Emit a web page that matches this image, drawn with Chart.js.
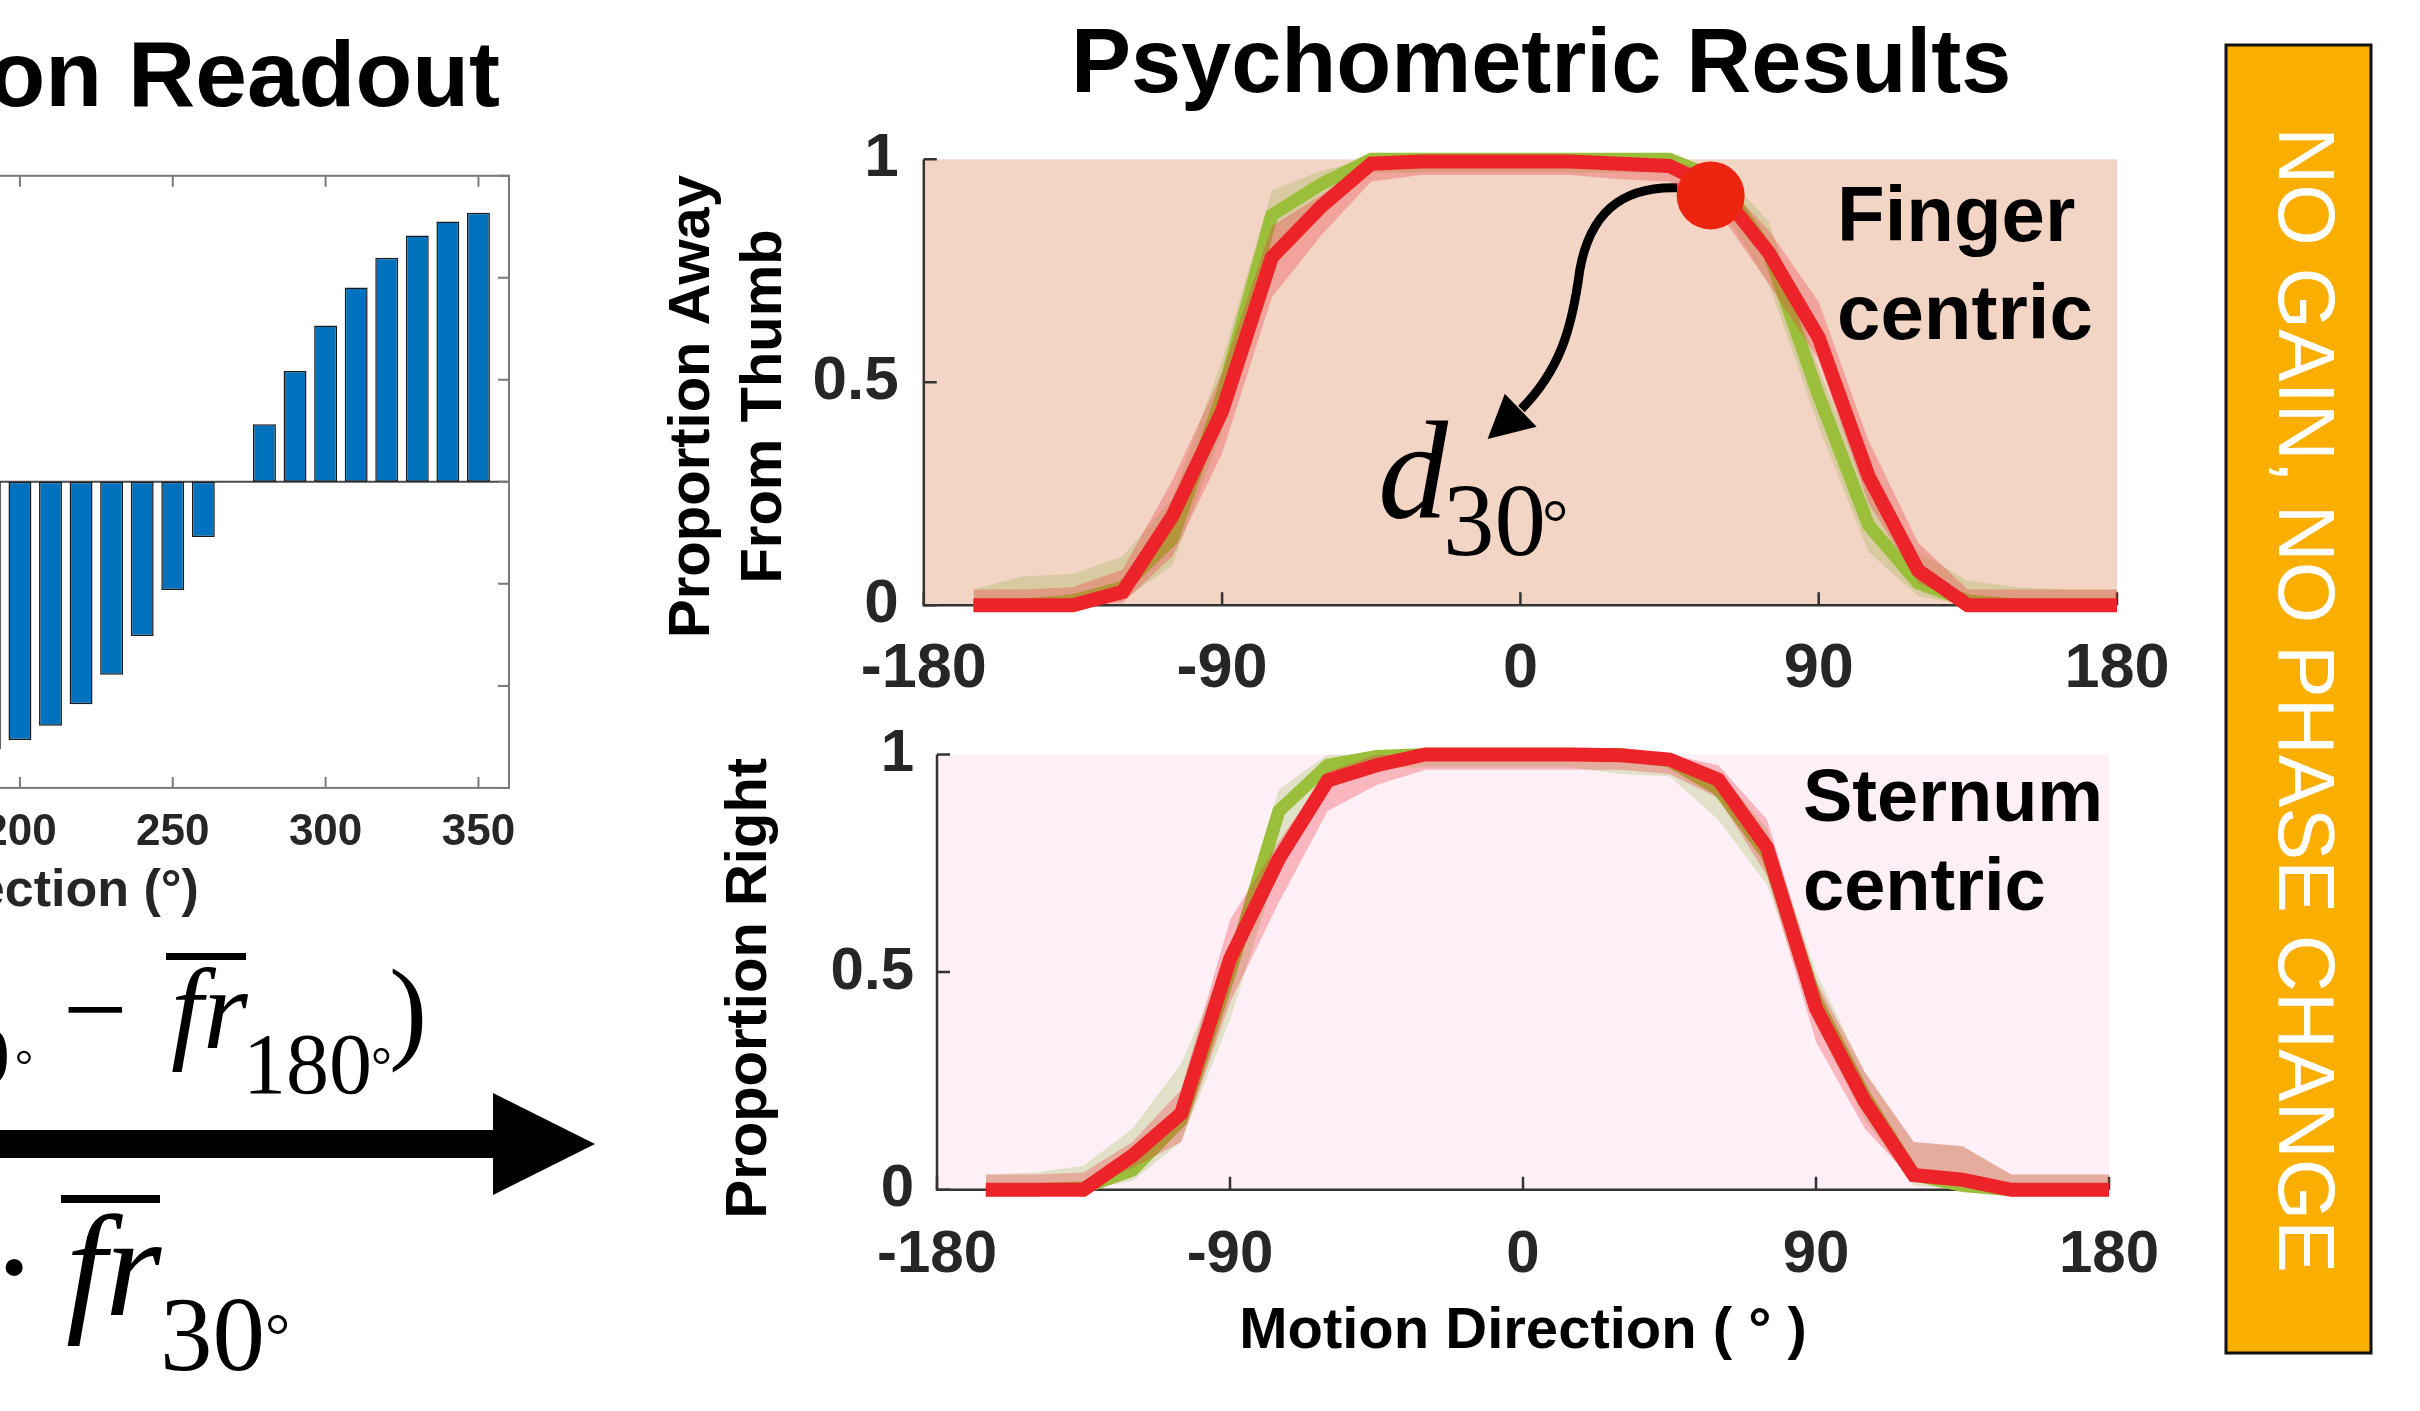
<!DOCTYPE html>
<html><head><meta charset="utf-8">
<script src="https://cdn.jsdelivr.net/npm/chart.js@4.4.1/dist/chart.umd.min.js"></script>
<style>
html,body{margin:0;padding:0;background:#fff;width:2420px;height:1411px;overflow:hidden;position:relative}
canvas{position:absolute}
#ov{position:absolute;left:0;top:0;pointer-events:none}
</style></head><body>
<canvas id="bar" width="1230" height="850" style="left:-700px;top:100px"></canvas>
<canvas id="top" width="1550" height="600" style="left:640px;top:120px"></canvas>
<canvas id="bot" width="1550" height="680" style="left:640px;top:720px"></canvas>
<svg id="ov" width="2420" height="1411" xmlns="http://www.w3.org/2000/svg">
  <g font-family="'Liberation Sans', Arial, Helvetica, sans-serif" font-weight="bold" fill="#000">
    <text x="500" y="106" font-size="93" text-anchor="end">Population Readout</text>
    <text x="1071" y="92" font-size="90">Psychometric Results</text>
    <text x="1837" y="241" font-size="78">Finger</text>
    <text x="1837" y="339" font-size="78">centric</text>
    <text x="1803" y="821" font-size="74">Sternum</text>
    <text x="1803" y="910" font-size="74">centric</text>
  </g>
  <g font-family="'Liberation Serif', 'Times New Roman', Times, serif" fill="#000">
    <text x="1378" y="518" font-size="140" font-style="italic">d</text>
    <text x="1443" y="555" font-size="103">30</text>
    <text x="1542" y="545" font-size="66">°</text>
    <!-- upper equation -->
    <text x="-31" y="1083" font-size="82">0</text>
    <text x="15" y="1080" font-size="45">°</text>
    <text x="63" y="1048" font-size="115">−</text>
    <text x="171" y="1048" font-size="115" font-style="italic">f</text>
    <text x="203" y="1048" font-size="115" font-style="italic">r</text>
    <text x="243" y="1093" font-size="86">180</text>
    <text x="371" y="1083" font-size="52">°</text>
    <text x="389" y="1048" font-size="115">)</text>
    <!-- lower equation -->
    <text x="-10" y="1315" font-size="145">·</text>
    <text x="66" y="1315" font-size="145" font-style="italic">f</text>
    <text x="105" y="1315" font-size="145" font-style="italic">r</text>
    <text x="160" y="1370" font-size="105">30</text>
    <text x="265" y="1357" font-size="63">°</text>
  </g>
  <rect x="166" y="953" width="80" height="7" fill="#000"/>
  <rect x="61" y="1195" width="99" height="8" fill="#000"/>
  <polygon points="-10,1130 493,1130 493,1093 595,1144 493,1195 493,1158 -10,1158" fill="#000"/>
  <rect x="2226" y="45" width="145" height="1308" fill="#F9AE00" stroke="#111" stroke-width="3"/>
  <text transform="translate(2279,700) rotate(90)" text-anchor="middle" font-family="'Liberation Sans', Arial, Helvetica, sans-serif" font-size="79" fill="#fff">NO GAIN, NO PHASE CHANGE</text>
</svg>
<script>
// ---------- data ----------
const barDirs = [190,200,210,220,230,240,250,260,270,280,290,300,310,320,330,340,350];
const barVals = [-2.62,-2.53,-2.39,-2.18,-1.89,-1.51,-1.06,-0.54,0,0.565,1.087,1.532,1.906,2.197,2.416,2.553,2.637];

const dirs = [-165,-150,-135,-120,-105,-90,-75,-60,-45,-30,-15,0,15,30,45,60,75,90,105,120,135,150,165,180];

const fingerRed     = [0,0,0,0.03,0.20,0.435,0.78,0.895,0.99,0.995,0.995,0.995,0.995,0.99,0.985,0.93,0.79,0.60,0.29,0.078,0,0,0,0];
const fingerRedLo   = [0,0,0,0.005,0.11,0.34,0.69,0.83,0.95,0.965,0.965,0.965,0.965,0.955,0.95,0.88,0.72,0.55,0.23,0.05,0,0,0,0];
const fingerRedHi   = [0.035,0.035,0.04,0.08,0.28,0.52,0.85,0.92,1,1,1,1,1,1,1,0.96,0.84,0.68,0.37,0.14,0.035,0.035,0.035,0.035];
const fingerGreen   = [0,0,0.01,0.04,0.15,0.47,0.875,0.945,1,1,1,1,1,1,1,0.955,0.79,0.47,0.18,0.05,0.01,0,0,0];
const fingerGreenLo = [0,0,0,0.01,0.09,0.39,0.8,0.91,0.97,0.97,0.97,0.97,0.97,0.97,0.97,0.9,0.72,0.4,0.12,0.02,0,0,0,0];
const fingerGreenHi = [0.035,0.065,0.07,0.11,0.24,0.55,0.93,0.975,1,1,1,1,1,1,1,0.98,0.86,0.53,0.26,0.12,0.055,0.04,0.035,0.035];

const sternumRed     = [0,0,0,0.078,0.175,0.53,0.76,0.94,0.975,1,1,1,1,0.998,0.988,0.942,0.785,0.417,0.203,0.034,0.023,0,0,0];
const sternumRedLo   = [0,0,0,0.05,0.11,0.43,0.66,0.87,0.93,0.965,0.965,0.965,0.965,0.965,0.955,0.9,0.72,0.34,0.14,0.02,0.01,0,0,0];
const sternumRedHi   = [0.035,0.035,0.04,0.11,0.23,0.62,0.8,0.96,1,1,1,1,1,1,1,0.975,0.85,0.48,0.27,0.11,0.1,0.035,0.035,0.035];
const sternumGreen   = [0,0,0.005,0.045,0.16,0.5,0.87,0.975,0.995,1,1,1,1,1,0.985,0.92,0.77,0.435,0.215,0.035,0.01,0,0,0];
const sternumGreenLo = [0,0,0,0.02,0.11,0.39,0.75,0.94,0.97,0.97,0.97,0.97,0.97,0.955,0.95,0.85,0.7,0.38,0.16,0.01,0,0,0,0];
const sternumGreenHi = [0.035,0.04,0.055,0.14,0.29,0.55,0.92,1,1,1,1,1,1,1,0.995,0.96,0.83,0.5,0.27,0.11,0.1,0.035,0.035,0.035];

const refDir = [57.4];
const refVal = [0.919];

const xTicks = [-180,-90,0,90,180];
const yTicks = [0,0.5,1];

// ---------- styles ----------
const FONT = "'Liberation Sans', Arial, Helvetica, sans-serif";
const TICK = '#262626';
const RED = '#EC2328', GREEN = '#9BBF3B';
const RED_BAND = 'rgba(237,50,60,0.30)', GREEN_BAND = 'rgba(110,160,20,0.20)';
const pts = (xs, ys) => xs.map((v,i)=>({x:v, y:ys[i]}));

const psychoAxes = {
  id:'psychoAxes',
  beforeDraw(chart, args, o){
    const {ctx, chartArea:a} = chart;
    ctx.save(); ctx.fillStyle = o.bg;
    ctx.fillRect(a.left, a.top, a.right-a.left, a.bottom-a.top); ctx.restore();
  },
  beforeDatasetsDraw(chart, args, o){
    const {ctx, chartArea:a, scales:{x,y}} = chart;
    ctx.save();
    ctx.strokeStyle = '#333'; ctx.lineWidth = 2.5;
    ctx.beginPath(); ctx.moveTo(a.left, a.top); ctx.lineTo(a.left, a.bottom); ctx.lineTo(a.right, a.bottom); ctx.stroke();
    ctx.beginPath();
    x.ticks.forEach(t=>{const p=x.getPixelForValue(t.value); ctx.moveTo(p,a.bottom); ctx.lineTo(p,a.bottom-13);});
    y.ticks.forEach(t=>{const p=y.getPixelForValue(t.value); ctx.moveTo(a.left,p); ctx.lineTo(a.left+13,p);});
    ctx.stroke(); ctx.restore();
  }
};

const curvedArrow = {
  id:'curvedArrow',
  beforeDatasetsDraw(chart, args, o){
    if(!o || !o.curve) return;
    const {ctx, scales:{x,y}} = chart;
    const P = ([a,b]) => [x.getPixelForValue(a), y.getPixelForValue(b)];
    const c = o.curve.map(P), h = o.head.map(P);
    ctx.save();
    ctx.strokeStyle = '#000'; ctx.lineWidth = 9; ctx.lineCap = 'butt';
    ctx.beginPath(); ctx.moveTo(...c[0]);
    ctx.bezierCurveTo(...c[1], ...c[2], ...c[3]);
    ctx.bezierCurveTo(...c[4], ...c[5], ...c[6]);
    ctx.stroke();
    ctx.fillStyle = '#000'; ctx.beginPath();
    ctx.moveTo(...h[0]); ctx.lineTo(...h[1]); ctx.lineTo(...h[2]); ctx.closePath(); ctx.fill();
    ctx.restore();
  }
};

const boxAxes = {
  id:'boxAxes',
  beforeDatasetsDraw(chart){
    const {ctx, chartArea:a, scales:{x,y}} = chart;
    ctx.save();
    const y0 = y.getPixelForValue(0);
    ctx.strokeStyle = '#4a4a4a'; ctx.lineWidth = 2;
    ctx.beginPath(); ctx.moveTo(a.left,y0); ctx.lineTo(a.right,y0); ctx.stroke();
    ctx.strokeStyle = '#7a7a7a'; ctx.lineWidth = 2;
    ctx.strokeRect(a.left, a.top, a.right-a.left, a.bottom-a.top);
    ctx.beginPath();
    x.ticks.forEach(t=>{const p=x.getPixelForValue(t.value); ctx.moveTo(p,a.bottom); ctx.lineTo(p,a.bottom-11); ctx.moveTo(p,a.top); ctx.lineTo(p,a.top+11);});
    y.ticks.forEach(t=>{const p=y.getPixelForValue(t.value); ctx.moveTo(a.left,p); ctx.lineTo(a.left+11,p); ctx.moveTo(a.right,p); ctx.lineTo(a.right-11,p);});
    ctx.stroke(); ctx.restore();
  }
};

function lineSet(label, ys, color, w){ return {label, data:pts(dirs,ys), borderColor:color, borderWidth:w, pointRadius:0, fill:false, tension:0, borderJoinStyle:'miter', borderCapStyle:'butt', clip:false}; }
function bandSet(label, ys, color, fill){ return {label, data:pts(dirs,ys), borderWidth:0, borderColor:'rgba(0,0,0,0)', backgroundColor:color, pointRadius:0, fill:fill, tension:0, clip:false}; }

function psychoChart(id, cfg){
  const ds = [];
  if (cfg.ref) ds.push({label:'reference direction', data:pts(refDir, refVal), showLine:false, pointRadius:34, pointHoverRadius:34, pointBackgroundColor:'#EC2410', pointBorderWidth:0, borderWidth:0, clip:false});
  ds.push(lineSet(cfg.name+' (red)', cfg.red, RED, 14));
  ds.push(bandSet('red upper', cfg.redHi, RED_BAND, '+1'));
  ds.push(bandSet('red lower', cfg.redLo, RED_BAND, false));
  ds.push(lineSet(cfg.name+' (green)', cfg.green, GREEN, 13));
  ds.push(bandSet('green upper', cfg.greenHi, GREEN_BAND, '+1'));
  ds.push(bandSet('green lower', cfg.greenLo, GREEN_BAND, false));
  const yTitle = {display:true, text:cfg.yTitle, color:'#000', font:{family:FONT, size:58, weight:'bold', lineHeight:1.24}, padding:{top:cfg.yTitlePad, bottom:0}};
  const xTitle = cfg.xTitle ? {display:true, text:cfg.xTitle, color:'#000', font:{family:FONT, size:58, weight:'bold', lineHeight:1.24}, padding:{top:0, bottom:32.5}} : {display:false};
  return new Chart(document.getElementById(id), {
    type:'line',
    data:{datasets:ds},
    options:{
      responsive:false, animation:false, events:[],
      layout:{padding:cfg.pad},
      plugins:{legend:{display:false}, tooltip:{enabled:false}, psychoAxes:{bg:cfg.bg}, curvedArrow:cfg.arrow || {}},
      scales:{
        x:{type:'linear', min:-180, max:180, grid:{display:false, drawTicks:false}, border:{display:false},
           afterBuildTicks:s=>{ s.ticks = xTicks.map(v=>({value:v})); },
           ticks:{padding:cfg.xPad, color:TICK, maxRotation:0, autoSkip:false, callback:v=>String(v), font:{family:FONT, size:cfg.xFont, weight:'bold'}},
           title:xTitle,
           afterFit:s=>{ s.height = cfg.xH; s.paddingLeft = 0; s.paddingRight = 0; }},
        y:{type:'linear', min:0, max:1, grid:{display:false, drawTicks:false}, border:{display:false},
           afterBuildTicks:s=>{ s.ticks = yTicks.map(v=>({value:v})); },
           ticks:{padding:cfg.yPad, color:TICK, autoSkip:false, callback:v=>String(v), font:{family:FONT, size:cfg.yFont, weight:'bold'}},
           title:yTitle,
           afterFit:s=>{ s.width = cfg.yW; s.paddingTop = 0; s.paddingBottom = 0; }}
      }
    },
    plugins:[psychoAxes, curvedArrow]
  });
}

psychoChart('top', {
  name:'Finger centric', red:fingerRed, redLo:fingerRedLo, redHi:fingerRedHi,
  green:fingerGreen, greenLo:fingerGreenLo, greenHi:fingerGreenHi, ref:true,
  yTitle:['Proportion Away   ','From Thumb   '], yTitlePad:17, bg:'#F3D5C5',
  pad:{top:39.3, right:73, left:0, bottom:0}, yW:283.8, xH:114.8, xPad:27, yPad:25, xFont:63, yFont:62,
  arrow:{ curve:[[47.4,0.936],[29.9,0.94],[20.9,0.875],[17.9,0.751],[15.5,0.617],[11.8,0.527],[0.3,0.44]],
          head:[[-9.9,0.373],[-4.7,0.474],[4.9,0.400]] }
});

psychoChart('bot', {
  name:'Sternum centric', red:sternumRed, redLo:sternumRedLo, redHi:sternumRedHi,
  green:sternumGreen, greenLo:sternumGreenLo, greenHi:sternumGreenHi, ref:false,
  yTitle:'Proportion Right  ', yTitlePad:74, xTitle:'Motion Direction ( ° )', bg:'#FEF0F6',
  pad:{top:34.4, right:81, left:0, bottom:0}, yW:297, xH:210.2, xPad:30, yPad:23, xFont:60, yFont:60
});

new Chart(document.getElementById('bar'), {
  type:'bar',
  data:{datasets:[{label:'readout', data:pts(barDirs, barVals), backgroundColor:'#0072BD', borderColor:'#1a1a1a', borderWidth:1.5, borderSkipped:false, barPercentage:0.75, categoryPercentage:1}]},
  options:{
    responsive:false, animation:false, events:[],
    layout:{padding:{top:75.8, right:21, left:0, bottom:0}},
    plugins:{legend:{display:false}, tooltip:{enabled:false}},
    scales:{
      x:{type:'linear', min:0, max:360, offset:false, grid:{display:false, drawTicks:false, offset:false}, border:{display:false},
         ticks:{stepSize:50, includeBounds:false, padding:19, color:TICK, maxRotation:0, autoSkip:false, callback:v=>String(v), font:{family:FONT, size:44, weight:'bold'}},
         title:{display:true, text:'Motion Direction (°)', color:TICK, font:{family:FONT, size:52, weight:'bold', lineHeight:1.2}, padding:{top:0, bottom:27}},
         afterFit:s=>{ s.height = 162.1; s.paddingLeft = 0; s.paddingRight = 0; }},
      y:{type:'linear', min:-3, max:3, grid:{display:false, drawTicks:false}, border:{display:false},
         ticks:{stepSize:1, padding:10, color:TICK, callback:v=>String(v), font:{family:FONT, size:44, weight:'bold'}},
         afterFit:s=>{ s.width = 108.6; s.paddingTop = 0; s.paddingBottom = 0; }}
    }
  },
  plugins:[boxAxes]
});
</script>
</body></html>
